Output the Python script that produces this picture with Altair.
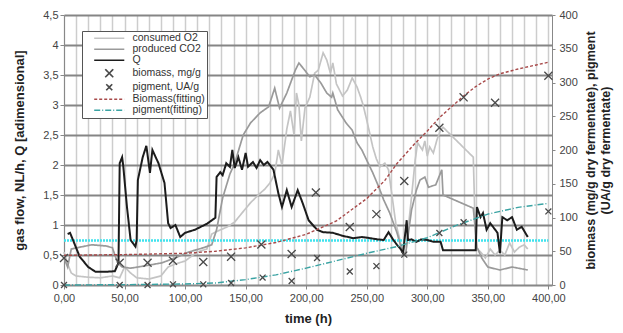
import altair as alt
import pandas as pd

# ---------------- data ----------------
o2_t = [0,3,6,10,20,30,40,46,50,55,60,70,80,86,92,100,110,118,122,127,135,141,147,154,158,162,166,170,174,177,180,184,187,190,192,194,196,199,203,207,210,214,217,220,222,225,230,234,238,242,245,247,250,255,258,261,265,268,271,274,278,280,283,287,290,292,296,298,300,302,305,308,311,313,338,340,344,348,352,356,360,364,368,372,376,380,383]
o2_v = [0.55,0.35,0.2,0.15,0.13,0.12,0.15,0.12,0.3,0.2,0.12,0.1,0.15,0.3,0.35,0.4,0.55,0.6,0.85,0.9,0.97,1.05,1.2,1.37,1.45,1.53,1.6,1.7,1.85,2.25,2.0,2.6,2.9,2.5,3.2,3.0,2.4,2.95,3.13,3.53,3.58,3.87,3.75,3.53,3.7,3.35,3.15,3.25,3.45,3.3,3.13,3.0,2.75,2.3,2.1,1.97,2.03,1.92,1.47,1.03,0.7,0.58,0.7,1.47,2.08,2.37,2.25,2.4,2.15,2.3,2.2,2.42,2.58,2.63,2.13,0.63,0.55,0.45,0.6,0.5,0.58,0.5,0.7,0.55,0.63,0.67,0.6]

co2_t = [0,3,6,13,23,35,40,44,48,55,61,70,81,94,103,115,122,126,131,137,141,145,148,154,162,169,174,178,184,191,194,198,203,207,212,217,221,222,226,233,238,242,246,250,255,260,264,269,275,279,282,284,287,291,294,298,301,307,311,312,313,338,341,345,350,360,370,383]
co2_v = [0.45,0.3,0.6,0.63,0.67,0.65,0.62,0.38,0.3,0.28,0.3,0.33,0.37,0.47,0.55,0.62,0.67,0.92,1.45,1.85,2.03,2.3,2.5,2.7,2.87,2.97,3.28,2.95,3.2,3.58,3.7,3.6,3.47,3.5,3.37,3.2,3.13,3.2,2.92,2.7,2.58,2.37,2.25,2.08,1.87,1.63,1.42,1.2,0.87,0.58,0.5,0.8,1.25,1.58,1.75,1.8,1.63,1.67,1.87,1.92,1.5,1.28,0.63,0.45,0.3,0.25,0.3,0.25]

q_t = [3,5,9,13,20,26,35,42,45,46,48,49,52,55,59,60,61,65,68,71,73,78,83,86,88,92,96,100,108,118,125,126,129,131,134,137,139,141,144,147,150,152,156,159,162,165,168,170,173,177,180,184,188,193,197,202,209,214,222,230,239,246,253,259,264,268,272,275,278,280,283,284,287,291,295,300,305,311,313,325,340,341,344,346,349,352,355,358,360,362,366,370,374,378,383]
q_v = [0.85,0.87,0.67,0.47,0.3,0.22,0.22,0.23,0.37,2.03,2.13,1.97,1.3,0.75,0.64,0.75,1.75,2.13,2.32,1.87,2.25,2.03,1.7,1.03,0.95,1.0,0.8,0.87,0.92,1.02,1.12,1.8,1.88,1.83,2.03,1.97,2.25,1.95,2.13,1.92,2.2,1.97,2.05,1.95,2.08,2.0,2.05,2.0,1.92,1.53,1.3,1.58,1.3,1.58,1.37,1.08,0.92,0.88,0.87,0.82,0.78,0.8,0.78,0.76,0.75,0.88,0.75,0.67,0.6,0.53,1.08,0.75,0.76,0.72,0.76,0.75,0.72,0.72,0.58,0.58,0.58,1.3,1.13,1.2,0.92,1.03,0.95,0.87,0.53,1.13,1.08,1.13,0.92,0.97,0.8]

ref_t = [0, 400]
ref_v = [0.74, 0.74]

bio_t = [0,46,69,90,115,138,163,188,208,236,258,281,310,330,356,400]
bio_v = [40,33,33,36,34,42,60,46,137,86,105,154,233,278,270,310]

pig_t = [0,46,69,90,115,138,164,188,209,236,258,281,310,330,400]
pig_v = [0,0,0,1,1,3,11,6,40,20,28,45,77,93,109]

bfit_t = [0,50,100,125,150,175,200,225,250,265,275,290,300,310,320,330,340,350,360,375,390,400]
bfit_v = [44,45,47,50,55,63,75,95,128,155,180,210,228,248,264,280,294,305,313,320,326,330]

pfit_t = [0,50,100,125,150,175,200,225,250,275,300,325,350,375,400]
pfit_v = [0,0.5,1.5,3,8,15,25,36,47,57,70,89,105,115,121]

labels = ["consumed O2", "produced CO2", "Q", "biomass, mg/g", "pigment, UA/g",
          "Biomass(fitting)", "pigment(fitting)"]

# ---------------- tables ----------------
def long(ts, vs, name):
    return pd.DataFrame({"t": ts, "v": vs, "series": name})

gas_df = pd.concat([long(o2_t, o2_v, labels[0]), long(co2_t, co2_v, labels[1])])
q_df = long(q_t, q_v, labels[2])
ref_df = pd.DataFrame({"t": ref_t, "v": ref_v})
pts_df = pd.concat([long(bio_t, bio_v, labels[3]), long(pig_t, pig_v, labels[4])])
fit_df = pd.concat([long(bfit_t, bfit_v, labels[5]), long(pfit_t, pfit_v, labels[6])])

# ---------------- styles ----------------
FONT = "Liberation Sans"
colors = ["#c4c4c4", "#9a9a9a", "#1c1c1c", "#4a4a4a", "#4a4a4a", "#a84a4a", "#3aa3a3"]
dashes = [[1, 0], [1, 0], [1, 0], [1, 0], [1, 0], [3, 2], [6, 2, 1, 2]]
LINE = "M-4.3,0L4.3,0"
shapes = [LINE, LINE, LINE,
          "M-1.15,-1.15L1.15,1.15M1.15,-1.15L-1.15,1.15",
          "M-0.85,-0.85L0.85,0.85M0.85,-0.85L-0.85,0.85",
          LINE, LINE]

legend = alt.Legend(
    title=None, orient="none", legendX=18, legendY=16,
    fillColor="white", strokeColor="#555555", padding=2,
    labelFont=FONT, labelFontSize=10.5, labelColor="#333333",
    symbolSize=49, symbolStrokeWidth=1.6, symbolOffset=20, labelOffset=18,
    rowPadding=0, labelLimit=200,
)
color = alt.Color("series:N", scale=alt.Scale(domain=labels, range=colors), legend=legend)
dash = alt.StrokeDash("series:N", scale=alt.Scale(domain=labels, range=dashes), legend=legend)
shape = alt.Shape("series:N", scale=alt.Scale(domain=labels, range=shapes), legend=legend)

x_enc = alt.X(
    "t:Q", scale=alt.Scale(domain=[0, 403], nice=False, zero=False),
    axis=alt.Axis(
        title="time (h)", values=list(range(0, 401, 10)),
        labelExpr="datum.value % 50 === 0 ? replace(format(datum.value, '.2f'), '.', ',') : ''",
        labelOverlap=False, labelFlush=False,
        tickOpacity={"condition": {"test": "datum.value % 50 === 0", "value": 1}, "value": 0},
        tickSize=4, labelPadding=3, titlePadding=9,
        grid=True, gridColor="#cdcdcd", gridWidth=1.5,
        domainColor="#888888",
    ),
)

yl = alt.Y(
    "v:Q", scale=alt.Scale(domain=[0, 4.5], nice=False),
    axis=alt.Axis(
        title="gas flow, NL/h, Q [adimensional]",
        values=[i * 0.5 for i in range(10)],
        labelExpr="replace(format(datum.value, '.1~f'), '.', ',')",
        tickSize=4, labelPadding=2, titlePadding=16,
        grid=True, gridColor="#858585", gridWidth=2,
        domainColor="#888888",
    ),
)

yr = alt.Y(
    "v:Q", scale=alt.Scale(domain=[0, 400], nice=False),
    axis=alt.Axis(
        orient="right",
        title=["biomass (mg/g dry fermentate), pigment", "(UA/g dry fermentate)"],
        values=list(range(0, 401, 50)),
        tickSize=3, labelPadding=4,
        titleAngle=270, titleBaseline="top", titleLineHeight=15,
        titleX=32, titleY=135, titleFontSize=12.5,
        grid=False, domainColor="#888888",
    ),
)

gas = alt.Chart(gas_df).mark_line(strokeWidth=1.7).encode(
    x=x_enc, y=yl, color=color, strokeDash=dash, detail="series:N")
qline = alt.Chart(q_df).mark_line(strokeWidth=2).encode(
    x=x_enc, y=yl, color=color, strokeDash=dash)
ref = alt.Chart(ref_df).mark_line(strokeWidth=2.5, strokeDash=[2, 1], color="#3fe3ee").encode(
    x=x_enc, y=yl)

left = alt.layer(gas, ref, qline)

fits = alt.Chart(fit_df).mark_line(strokeWidth=1.4).encode(
    x=x_enc, y=yr, color=color, strokeDash=dash, detail="series:N")
pts = alt.Chart(pts_df).mark_point(size=49, strokeWidth=1.3, filled=False, opacity=1).encode(
    x=x_enc, y=yr, color=color, shape=shape)

right = alt.layer(fits, pts)

chart = alt.layer(left, right).resolve_scale(y="independent").properties(
    width=488, height=270,
    autosize=alt.AutoSizeParams(type="none"),
    padding={"left": 64, "top": 15, "right": 71, "bottom": 48},
).configure_view(stroke=None).configure_axis(
    labelFont=FONT, labelFontSize=11, labelColor="#444444",
    titleFont=FONT, titleFontSize=13, titleFontWeight="bold", titleColor="#222222",
    tickColor="#888888",
)

chart.save("out.html", embed_options={"renderer": "svg", "actions": False})
